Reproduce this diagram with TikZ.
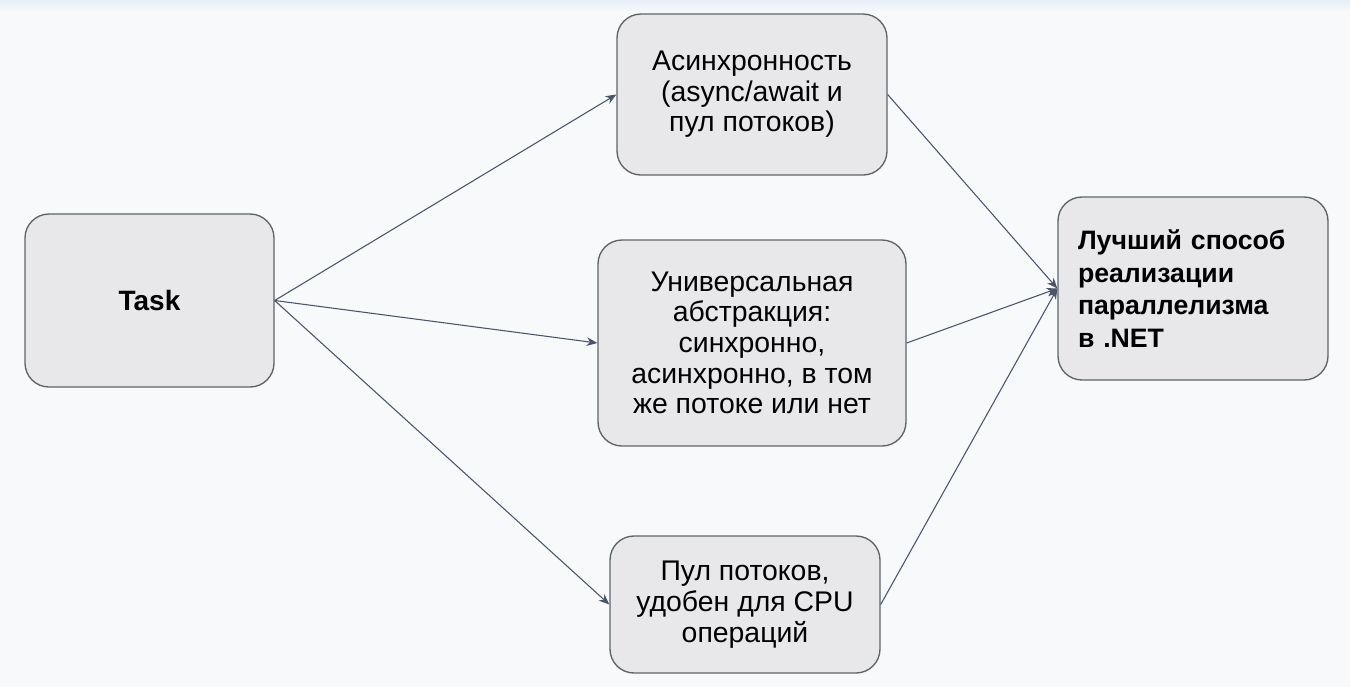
\documentclass[tikz,border=0pt]{standalone}
\usepackage{fontspec}
\setmainfont{Liberation Sans}
\usetikzlibrary{arrows.meta}
\definecolor{pagebg}{HTML}{F8F9FB}
\definecolor{topband}{HTML}{E6EEF6}
\definecolor{boxfill}{HTML}{E8E7EA}
\definecolor{boxline}{HTML}{5F6368}
\definecolor{arrowline}{HTML}{4A5568}
\begin{document}
\begin{tikzpicture}[x=0.75pt,y=-0.75pt,
  box/.style={draw=boxline,line width=1pt,fill=boxfill,rounded corners=18pt,
    font=\fontsize{21.3}{23}\selectfont,align=center,inner sep=0pt},
  link/.style={draw=arrowline,line width=0.8pt,-{Stealth[length=8pt,width=6.5pt]}}]
% Background
\useasboundingbox (0,0) rectangle (1350,687);
\fill[pagebg] (0,0) rectangle (1350,687);
\shade[top color=topband,bottom color=pagebg] (0,0) rectangle (1350,12);

% Source
\node[box,minimum width=186.75pt,minimum height=129.75pt,font=\fontsize{21}{24}\selectfont\bfseries] (task) at (149.5,300.5) {Task};

% Middle column
\node[box,minimum width=202.5pt,minimum height=120.75pt] (async) at (752,94.5)
  {Асинхронность\\(async/await и\\пул потоков)};
\node[box,minimum width=231pt,minimum height=154.5pt] (univ) at (752,343)
  {Универсальная\\абстракция:\\синхронно,\\асинхронно, в том\\же потоке или нет};
\node[box,minimum width=202.5pt,minimum height=102.75pt] (pool) at (745,604.5)
  {Пул потоков,\\удобен для CPU\\операций};

% Result
\node[box,minimum width=202.5pt,minimum height=137.25pt,text width=172.5pt,inner xsep=15pt,
  align=left,font=\fontsize{20}{24.5}\selectfont\bfseries] (best) at (1193,288.5)
  {Лучший способ\\реализации\\параллелизма\\в .NET};

% Arrows
\draw[link] (task.east) -- (async.west);
\draw[link] (task.east) -- (univ.west);
\draw[link] (task.east) -- (pool.west);
\draw[link] (async.east) -- (best.west);
\draw[link] (univ.east) -- (best.west);
\draw[link] (pool.east) -- (best.west);
\end{tikzpicture}
\end{document}
